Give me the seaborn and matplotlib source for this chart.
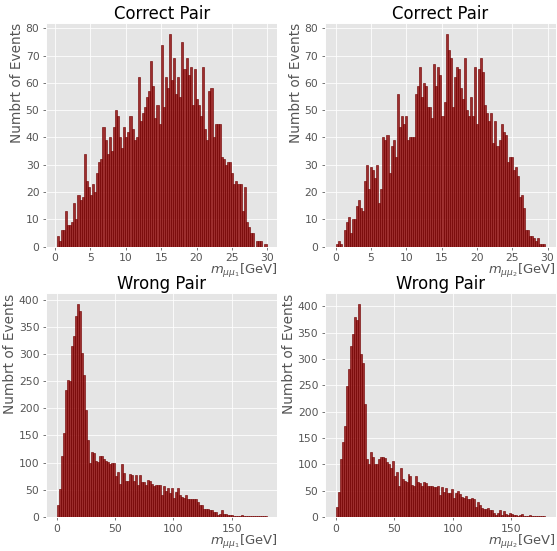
import numpy as np
import pandas as pd
import matplotlib
matplotlib.use("Agg")
import matplotlib.pyplot as plt
import seaborn as sns

# ---- data (counts per bin) ----
correct_m1 = [4,2,6,6,13,8,8,9,16,10, 19,17,18,34,24,22,19,23,20,27,
              31,32,44,39,34,40,35,44,50,48, 40,36,44,40,42,48,43,39,40,62,
              46,49,51,55,57,68,59,47,52,45, 74,51,62,58,78,61,69,56,62,55,
              75,65,69,63,66,52,65,54,52,48, 66,43,39,57,58,40,45,45,45,33,
              32,30,31,31,27,23,24,23,23,13, 22,9,7,5,5,0,2,2,2,0,1]
correct_m1_range = [0.24, 29.9]

correct_m2 = [1,2,1,0,6,9,11,5,10,10, 15,17,14,13,24,30,21,29,28,25,
              30,16,21,40,39,41,27,37,39,33, 56,44,48,45,48,39,40,40,40,56,
              59,66,55,60,59,51,51,47,
              67,59,66,63,48,53,78,72,69,51, 62,66,65,58,54,69,50,48,55,48,
              66,45,65,69,64,52,49,46,49,38, 46,37,39,45,42,41,31,33,33,28,
              29,26,18,19,14,6,6,4,4,3, 2,3,1,1,1]
correct_m2_range = [0.0, 29.7]

wrong_m1 = [22,52,113,154,234,252,250,314,334,370, 392,379,301,261,197,141,99,119,117,103,
            101,112,113,106,103,101,97,99,99,75, 83,61,97,81,66,66,79,77,66,77,
            59,77,64,64,59,68,66,61,57,
            59,59,59,41,57,48,53,44,53,35, 46,53,41,37,35,41,33,33,33,33,
            32,28,21,22,15,15,15,13,13,8, 8,4,6,13,6,6,4,4,4,2,
            2,2,2,4,2,1,1,2,1,1, 1,1,1,1,1,1]
wrong_m1_range = [0.0, 180.0]

wrong_m2 = [18,48,110,142,172,249,281,324,348,380, 374,404,309,292,215,110,101,123,114,101,
            101,110,114,114,112,104,101,93,106,78, 86,59,93,71,69,67,82,78,61,58,
            78,67,65,58,67,65,58,59,59,56,
            56,59,41,56,48,54,46,46,52,35, 46,50,43,37,35,39,33,33,35,33,
            18,29,22,16,14,14,16,13,13,7, 3,7,13,3,11,5,3,7,5,3,
            3,1,3,5,1,1,1,3,1,1, 1,1,1,1,1]
wrong_m2_range = [0.0, 179.0]

titles = ["Correct Pair", "Correct Pair", "Wrong Pair", "Wrong Pair"]
xlabels = [r"$m_{\mu\mu_1}$[GeV]", r"$m_{\mu\mu_2}$[GeV]",
           r"$m_{\mu\mu_1}$[GeV]", r"$m_{\mu\mu_2}$[GeV]"]
ylabel = "Numbrt of Events"

plt.style.use("ggplot")
fig, axes = plt.subplots(2, 2, figsize=(557/70, 551/70), dpi=70)
fig.subplots_adjust(left=0.083, right=0.998, top=0.958, bottom=0.062,
                    wspace=0.208, hspace=0.21)

datasets = [(correct_m1, correct_m1_range), (correct_m2, correct_m2_range),
            (wrong_m1, wrong_m1_range), (wrong_m2, wrong_m2_range)]

for ax, (counts, rng), title, xl in zip(axes.flat, datasets, titles, xlabels):
    counts = np.asarray(counts, dtype=float)
    edges = np.linspace(rng[0], rng[1], len(counts) + 1)
    centers = 0.5 * (edges[:-1] + edges[1:])
    df = pd.DataFrame({"m": centers, "n": counts})
    sns.histplot(data=df, x="m", weights="n", bins=list(edges), ax=ax,
                 color="darkred", alpha=0.8, edgecolor="#700000",
                 linewidth=0.6)
    ax.set_title(title, fontsize=17, pad=4)
    ax.set_xlabel(xl, loc="right", fontsize=13.5, labelpad=-1)
    ax.set_ylabel(ylabel, loc="top", fontsize=14, labelpad=2)
    ax.tick_params(labelsize=11)

fig.savefig("out.png", dpi=70)
